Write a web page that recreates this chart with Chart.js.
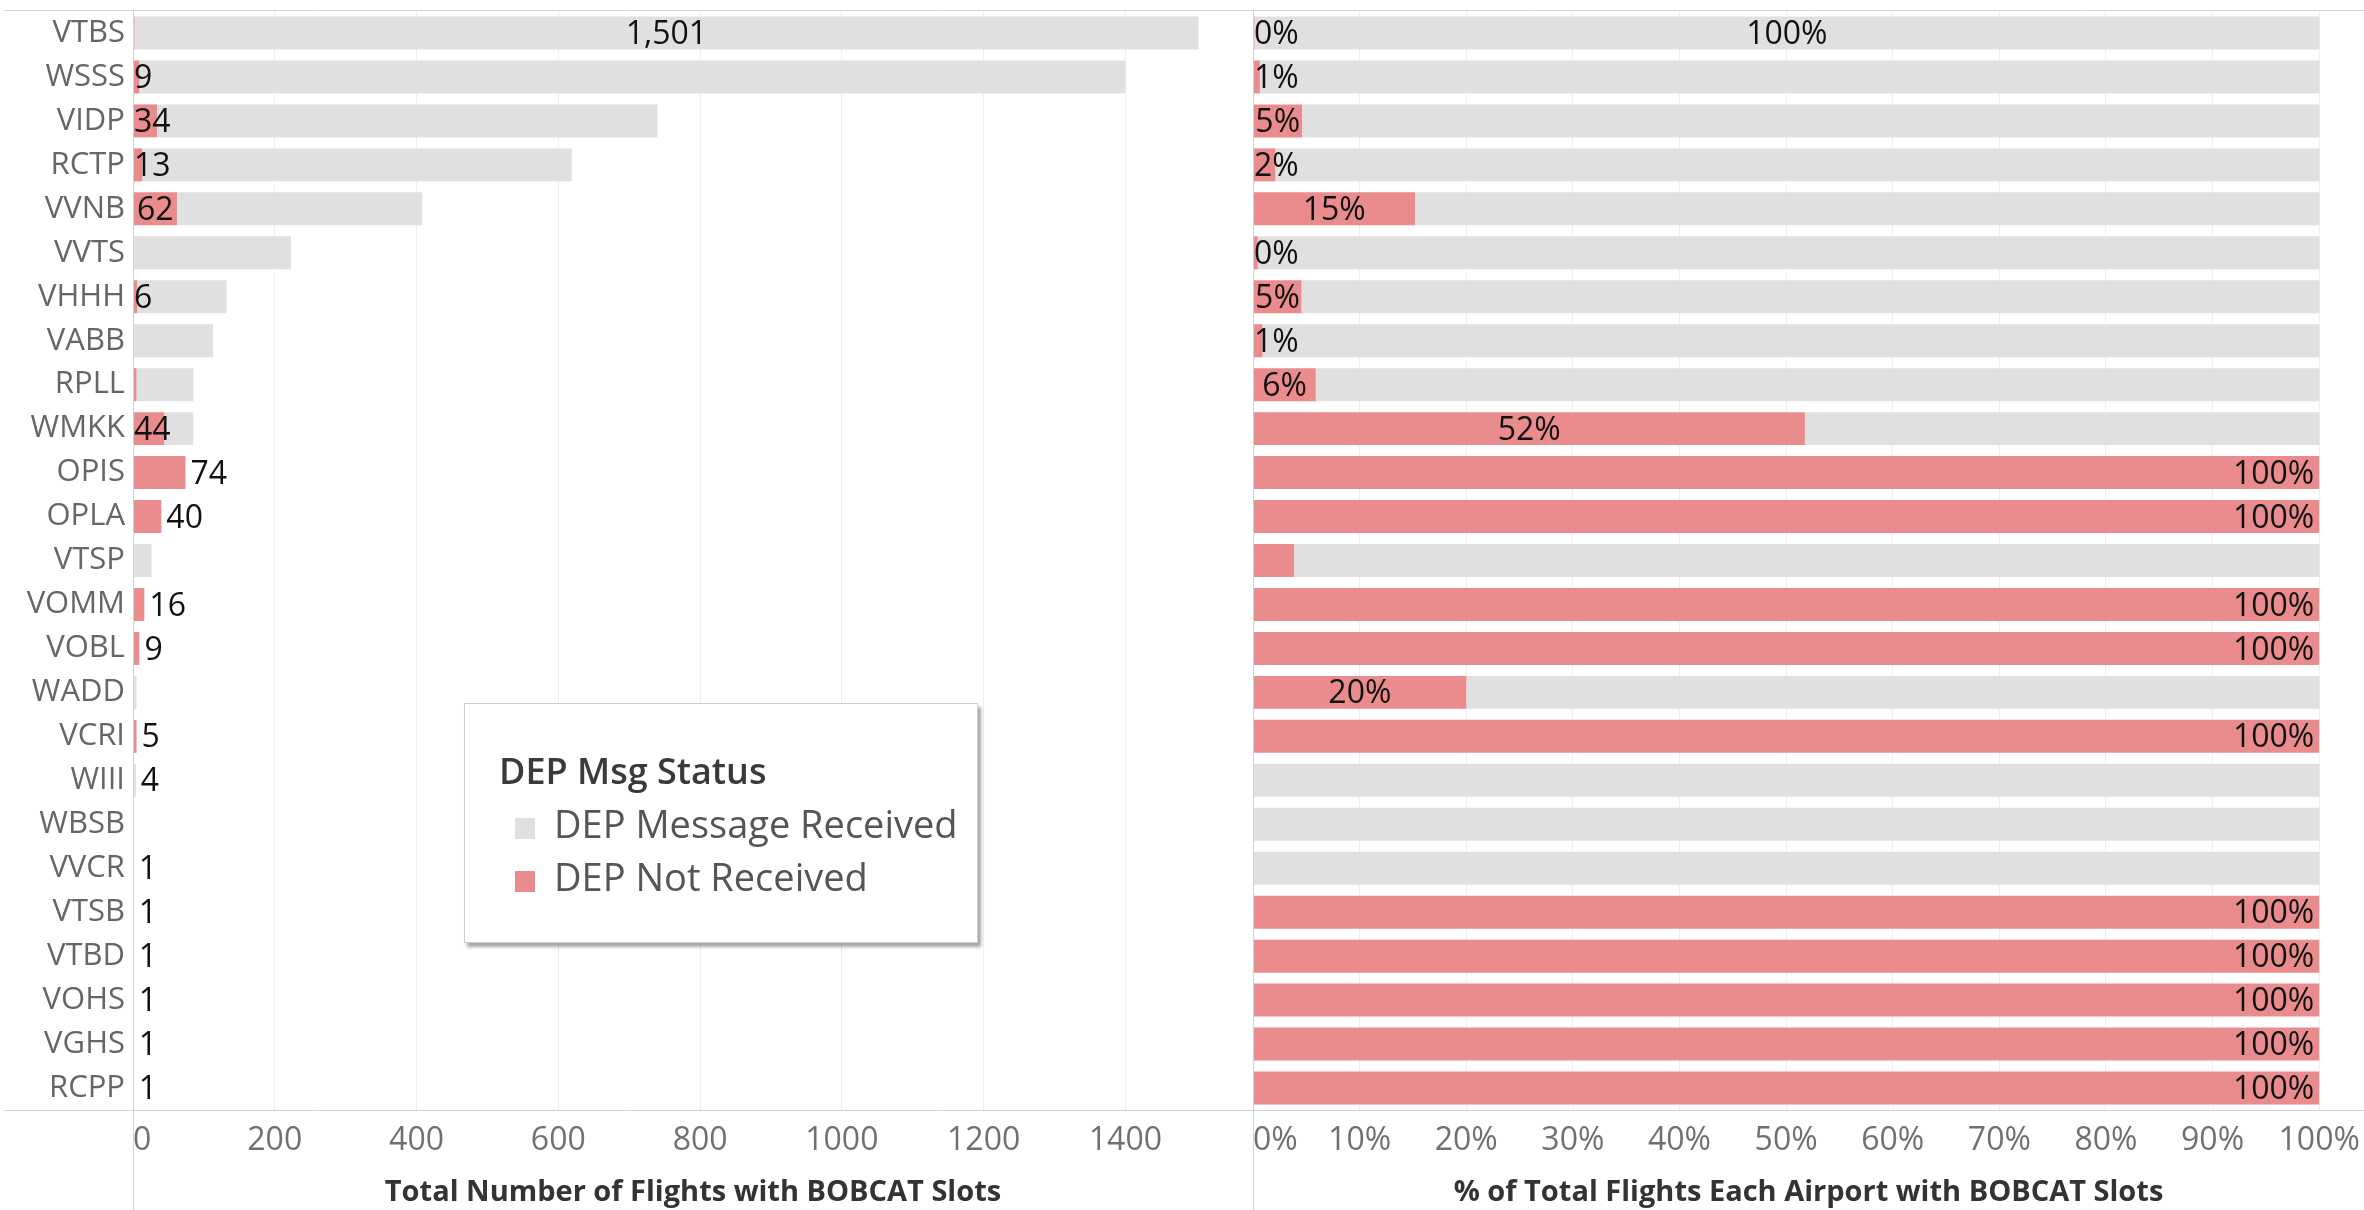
<!DOCTYPE html>
<html>
<head>
<meta charset="utf-8">
<script src="https://cdn.jsdelivr.net/npm/chart.js@4.4.1/dist/chart.umd.min.js"></script>
<style>
  html, body { margin: 0; padding: 0; background: #fff; }
  body { width: 2364px; height: 1210px; position: relative; overflow: hidden; font-family: 'Open Sans', sans-serif; }
  #leftBox { position: absolute; left: 0; top: 0; width: 1253px; height: 1210px; }
  #rightBox { position: absolute; left: 1253px; top: 0; width: 1111px; height: 1210px; }
  #legend {
    position: absolute; left: 464px; top: 703px; width: 512px; height: 238px;
    background: #fff; border: 1px solid #cfcfcf;
    box-shadow: 3px 4px 3px rgba(0,0,0,0.35);
  }
  #legend .title { position: absolute; left: 34px; top: 44px; font-size: 36px; color: #3a3a3a; font-weight: 600; line-height: 46px; }
  #legend .item { position: absolute; left: 50px; font-size: 38px; color: #555; line-height: 46px; white-space: nowrap; }
  #legend .item span { display: inline-block; width: 20px; height: 21px; margin-right: 19px; vertical-align: -1px; }
</style>
</head>
<body>
<div id="leftBox"><canvas id="leftChart"></canvas></div>
<div id="rightBox"><canvas id="rightChart"></canvas></div>
<div id="legend">
  <div class="title">DEP Msg Status</div>
  <div class="item" style="top:96px"><span style="background:#e0e0e0"></span>DEP Message Received</div>
  <div class="item" style="top:149px"><span style="background:#ea8c8d"></span>DEP Not Received</div>
</div>
<script>
// airports, top to bottom
const airports = ['VTBS', 'WSSS', 'VIDP', 'RCTP', 'VVNB', 'VVTS', 'VHHH', 'VABB', 'RPLL', 'WMKK',
                  'OPIS', 'OPLA', 'VTSP', 'VOMM', 'VOBL', 'WADD', 'VCRI', 'WIII', 'WBSB', 'VVCR',
                  'VTSB', 'VTBD', 'VOHS', 'VGHS', 'RCPP'];

// flights per status
const notReceived = [2, 9, 34, 13, 62, 1, 6, 1, 5, 44, 74, 40, 1, 16, 9, 1, 5, 0, 0, 0, 1, 1, 1, 1, 1];
const received    = [1501, 1391, 706, 606, 346, 222, 126, 112, 80, 41, 0, 0, 25, 0, 0, 4, 0, 4, 1, 1, 0, 0, 0, 0, 0];

// which labels tableau shows (1 = shown)
const leftRedLabel   = [0, 1, 1, 1, 1, 0, 1, 0, 0, 1, 1, 1, 0, 1, 1, 0, 1, 0, 0, 0, 1, 1, 1, 1, 1];
const leftGreyLabel  = [1, 0, 0, 0, 0, 0, 0, 0, 0, 0, 0, 0, 0, 0, 0, 0, 0, 1, 0, 1, 0, 0, 0, 0, 0];
const rightRedLabel  = [1, 1, 1, 1, 1, 1, 1, 1, 1, 1, 1, 1, 0, 1, 1, 1, 1, 0, 0, 0, 1, 1, 1, 1, 1];
const rightGreyLabel = [1, 0, 0, 0, 0, 0, 0, 0, 0, 0, 0, 0, 0, 0, 0, 0, 0, 0, 0, 0, 0, 0, 0, 0, 0];

// axis ticks
const countTicks = [0, 200, 400, 600, 800, 1000, 1200, 1400];
const countMax = 1580;
const pctTicks = [0, 10, 20, 30, 40, 50, 60, 70, 80, 90, 100];
const pctMax = 104.2;

const RED = '#ea8c8d';
const GREY = '#e0e0e0';

const totals = airports.map((a, i) => notReceived[i] + received[i]);
const pctRed = totals.map((t, i) => notReceived[i] / t * 100);
const pctGrey = totals.map((t, i) => received[i] / t * 100);

// data labels, placed like tableau does
const barLabels = {
  id: 'barLabels',
  afterDatasetsDraw(chart, args, opts) {
    const ctx = chart.ctx, area = chart.chartArea;
    const red = chart.getDatasetMeta(0).data;
    const grey = chart.getDatasetMeta(1).data;
    ctx.save();
    ctx.font = '32px "Open Sans"';
    ctx.fillStyle = '#111';
    ctx.textBaseline = 'middle';
    ctx.textAlign = 'left';
    airports.forEach((a, i) => {
      const parts = [];
      if (opts.showRed[i]) parts.push([red[i], opts.text(0, i)]);
      if (opts.showGrey[i]) parts.push([grey[i], opts.text(1, i)]);
      const single = notReceived[i] === 0 || received[i] === 0;
      parts.forEach(([el, txt]) => {
        const w = ctx.measureText(txt).width;
        let x;
        if (single) {
          const end = Math.max(red[i].x, grey[i].x);
          x = end + 5;
          if (x + w > area.right - 2) x = end - 5 - w;
        } else {
          x = (el.x + el.base) / 2 - w / 2;
          x = Math.max(x, area.left + 1);
          x = Math.min(x, area.right - 4 - w);
        }
        ctx.fillText(txt, x, el.y + 2);
      });
    });
    ctx.restore();
  }
};

// axis lines that run past the plot area
const frame = {
  id: 'frame',
  afterDraw(chart, args, opts) {
    const {ctx, chartArea: a, width, height} = chart;
    ctx.save();
    ctx.strokeStyle = '#d2d2d2';
    ctx.lineWidth = 1;
    ctx.beginPath();
    ctx.moveTo(opts.from, a.top - 0.5); ctx.lineTo(width, a.top - 0.5);
    ctx.moveTo(opts.from, a.bottom + 0.5); ctx.lineTo(width, a.bottom + 0.5);
    ctx.moveTo(a.left + 0.5, a.top); ctx.lineTo(a.left + 0.5, height);
    ctx.stroke();
    ctx.restore();
  }
};

function makeChart(id, redData, greyData, ticks, max, tickFmt, title, yWidth, opts) {
  return new Chart(document.getElementById(id), {
    type: 'bar',
    data: {
      labels: airports,
      datasets: [
        { label: 'DEP Not Received', data: redData, backgroundColor: RED },
        { label: 'DEP Message Received', data: greyData, backgroundColor: GREY }
      ]
    },
    options: {
      indexAxis: 'y',
      responsive: true,
      maintainAspectRatio: false,
      animation: false,
      events: [],
      layout: { padding: { top: 11, left: 0, right: 0, bottom: 0 } },
      datasets: { bar: { categoryPercentage: 0.75, barPercentage: 1, borderWidth: 0 } },
      scales: {
        x: {
          stacked: true,
          min: 0,
          max: max,
          afterFit: s => { s.height = 100; s.paddingLeft = 0; s.paddingRight = 0; },
          afterBuildTicks: s => { s.ticks = ticks.concat([max]).map(v => ({ value: v })); },
          border: { display: false },
          grid: {
            drawTicks: false,
            color: c => (c.tick && ticks.includes(c.tick.value)) ? '#efefef' : 'rgba(0,0,0,0)'
          },
          ticks: {
            autoSkip: false,
            maxRotation: 0,
            align: 'inner',
            padding: 12,
            color: '#707070',
            font: { family: 'Open Sans', size: 32 },
            callback: v => ticks.includes(v) ? tickFmt(v) : ''
          },
          title: {
            display: true,
            text: title,
            color: '#333',
            font: { family: 'Open Sans', size: 29, weight: 'bold' },
            padding: { top: 0, bottom: 0 }
          }
        },
        y: {
          stacked: true,
          afterFit: s => { s.width = yWidth; s.paddingTop = 0; s.paddingBottom = 0; },
          border: { display: false },
          grid: { display: false, drawTicks: false },
          ticks: {
            display: yWidth > 10,
            padding: 8,
            color: '#666',
            font: { family: 'Open Sans', size: 31 }
          }
        }
      },
      plugins: {
        legend: { display: false },
        tooltip: { enabled: false },
        barLabels: opts.labels,
        frame: { from: opts.frameFrom }
      }
    },
    plugins: [barLabels, frame]
  });
}

makeChart('leftChart', notReceived, received, countTicks, countMax,
  v => String(v), 'Total Number of Flights with BOBCAT Slots', 133,
  {
    frameFrom: 4,
    labels: {
      showRed: leftRedLabel,
      showGrey: leftGreyLabel,
      text: (d, i) => (d === 0 ? notReceived[i] : received[i]).toLocaleString('en-US')
    }
  });

makeChart('rightChart', pctRed, pctGrey, pctTicks, pctMax,
  v => v + '%', '% of Total Flights Each Airport with BOBCAT Slots', 0,
  {
    frameFrom: 0,
    labels: {
      showRed: rightRedLabel,
      showGrey: rightGreyLabel,
      text: (d, i) => Math.round(d === 0 ? pctRed[i] : pctGrey[i]) + '%'
    }
  });
</script>
</body>
</html>
